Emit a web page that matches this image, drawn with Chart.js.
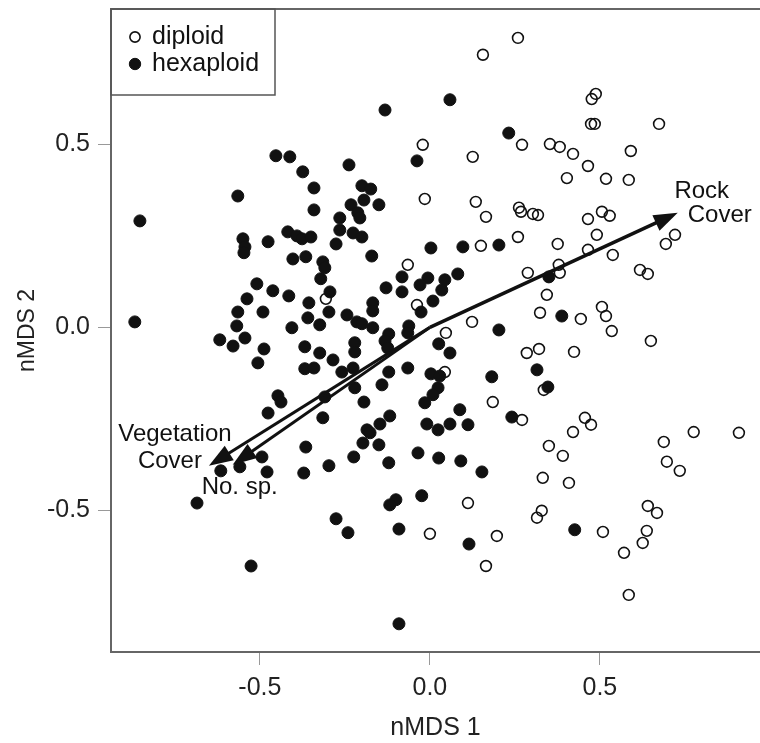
<!DOCTYPE html>
<html>
<head>
<meta charset="utf-8">
<script src="https://cdn.jsdelivr.net/npm/chart.js@4.4.1/dist/chart.umd.min.js"></script>
<style>
  body { margin: 0; background: #fff; }
</style>
</head>
<body>
<canvas id="nmds" width="760" height="743"></canvas>
<script>
// nMDS site scores
const diploidX = [0.259,0.156,0.271,-0.021,0.126,-0.015,0.135,0.165,0.262,0.268,0.303,0.318,0.488,0.476,0.474,0.485,0.674,0.353,0.382,0.421,0.591,0.465,0.403,0.518,0.585,0.465,0.506,0.529,0.491,0.376,0.465,0.538,0.721,0.694,0.379,0.382,0.618,0.641,0.344,0.324,0.444,0.506,0.518,0.535,0.650,0.321,0.424,0.335,0.456,0.474,0.421,0.776,0.909,0.688,0.697,0.735,0.350,0.391,0.332,0.409,0.329,0.315,0.509,0.641,0.668,0.638,0.626,0.571,0.585,0.112,0.000,0.197,0.165,0.259,0.150,-0.065,0.288,-0.306,-0.038,0.124,0.047,0.044,0.285,0.185,0.271];
const diploidY = [0.791,0.745,0.499,0.499,0.466,0.351,0.343,0.302,0.327,0.316,0.310,0.307,0.638,0.624,0.556,0.556,0.556,0.501,0.493,0.474,0.482,0.441,0.408,0.406,0.403,0.296,0.316,0.305,0.253,0.228,0.212,0.198,0.253,0.228,0.171,0.149,0.157,0.146,0.089,0.040,0.023,0.056,0.031,-0.010,-0.037,-0.059,-0.067,-0.171,-0.247,-0.266,-0.286,-0.286,-0.288,-0.313,-0.367,-0.392,-0.324,-0.351,-0.411,-0.425,-0.501,-0.520,-0.559,-0.488,-0.507,-0.556,-0.589,-0.616,-0.731,-0.480,-0.564,-0.570,-0.652,0.247,0.223,0.171,0.149,0.078,0.061,0.015,-0.015,-0.122,-0.070,-0.204,-0.253];

const hexaploidX = [-0.453,-0.412,-0.374,-0.341,-0.565,-0.341,-0.853,0.059,-0.132,0.232,
  -0.038,-0.238,-0.200,-0.174,-0.194,-0.232,-0.150,-0.212,-0.265,-0.868,
  -0.550,-0.544,-0.547,-0.476,-0.418,-0.391,-0.376,-0.350,-0.403,-0.365,
  -0.315,-0.509,-0.462,-0.415,-0.538,-0.356,-0.321,-0.565,-0.491,-0.359,
  -0.324,-0.568,-0.406,-0.618,-0.579,-0.544,-0.488,-0.368,-0.324,-0.506,
  -0.368,-0.341,-0.447,-0.438,-0.476,-0.315,-0.265,-0.206,-0.226,-0.200,
  0.203,0.097,0.003,-0.276,-0.171,-0.309,0.082,0.044,-0.006,-0.029,
  -0.082,-0.129,-0.082,0.035,0.009,-0.294,-0.168,-0.168,-0.026,-0.297,
  -0.244,-0.215,-0.200,-0.168,-0.121,-0.062,-0.065,0.203,-0.132,-0.124,
  0.026,0.059,-0.221,-0.221,-0.285,-0.259,-0.226,-0.121,-0.065,0.003,
  0.029,0.182,-0.309,-0.221,-0.141,0.024,0.009,-0.015,-0.194,0.088,
  0.241,-0.118,-0.147,-0.185,-0.009,0.059,0.112,0.024,0.350,0.388,
  0.315,0.347,0.426,-0.197,-0.150,-0.176,-0.224,-0.297,-0.121,-0.035,
  0.026,0.091,0.153,-0.024,-0.100,-0.118,-0.276,-0.241,-0.091,0.115,
  -0.091,-0.365,-0.371,-0.494,-0.479,-0.559,-0.615,-0.685,-0.526];
const hexaploidY = [0.469,0.466,0.425,0.381,0.359,0.321,0.291,0.622,0.594,0.531,
  0.455,0.444,0.387,0.378,0.348,0.335,0.335,0.313,0.299,0.015,
  0.242,0.220,0.204,0.234,0.261,0.250,0.242,0.247,0.187,0.193,
  0.179,0.119,0.100,0.086,0.078,0.067,0.133,0.042,0.042,0.026,
  0.007,0.004,-0.001,-0.034,-0.051,-0.029,-0.059,-0.053,-0.070,-0.097,
  -0.113,-0.111,-0.187,-0.204,-0.234,-0.247,0.266,0.299,0.258,0.247,
  0.225,0.220,0.217,0.228,0.195,0.163,0.146,0.130,0.135,0.116,
  0.138,0.108,0.097,0.102,0.072,0.097,0.067,0.045,0.042,0.042,
  0.034,0.015,0.010,-0.001,-0.018,0.004,-0.015,-0.007,-0.037,-0.056,
  -0.045,-0.070,-0.042,-0.067,-0.089,-0.122,-0.111,-0.122,-0.111,-0.127,
  -0.133,-0.135,-0.190,-0.165,-0.157,-0.165,-0.184,-0.206,-0.204,-0.225,
  -0.245,-0.242,-0.264,-0.280,-0.264,-0.264,-0.266,-0.280,0.138,0.031,
  -0.116,-0.163,-0.553,-0.316,-0.321,-0.288,-0.354,-0.378,-0.370,-0.343,
  -0.357,-0.365,-0.395,-0.460,-0.471,-0.485,-0.523,-0.561,-0.551,-0.592,
  -0.810,-0.327,-0.398,-0.354,-0.395,-0.381,-0.392,-0.480,-0.652];

// fitted environmental vectors (arrow tips)
const arrowLabels = [["Rock", "Cover"], ["Vegetation", "Cover"], ["No. sp."]];
const arrowX = [0.729, -0.650, -0.580];
const arrowY = [0.313, -0.378, -0.375];

const xTicks = [-0.5, 0, 0.5];
const yTicks = [-0.5, 0, 0.5];

// pixel offsets of each label line from its arrow tip
const labelOffsets = [[[24, -21], [42, 3]], [[-34, -31], [-39, -4]], [[7, 23]]];

const FONT = '"Liberation Sans", Arial, sans-serif';

function toPoints(xs, ys) {
  return xs.map((v, i) => ({x: v, y: ys[i]}));
}

const extras = {
  id: 'extras',
  afterDatasetsDraw(chart) {
    const {ctx, chartArea: a, scales: {x, y}} = chart;
    ctx.save();

    // frame, the right side is off the canvas
    ctx.strokeStyle = '#666';
    ctx.lineWidth = 2;
    ctx.beginPath();
    ctx.moveTo(a.right + 2, a.top);
    ctx.lineTo(a.left, a.top);
    ctx.lineTo(a.left, a.bottom);
    ctx.lineTo(a.right + 2, a.bottom);
    ctx.stroke();

    // arrows
    const x0 = x.getPixelForValue(0), y0 = y.getPixelForValue(0);
    ctx.strokeStyle = '#111';
    ctx.fillStyle = '#111';
    ctx.font = '24px ' + FONT;
    ctx.textAlign = 'center';
    ctx.textBaseline = 'middle';
    for (let i = 0; i < arrowX.length; i++) {
      const x1 = x.getPixelForValue(arrowX[i]);
      const y1 = y.getPixelForValue(arrowY[i]);
      const ang = Math.atan2(y1 - y0, x1 - x0);
      const c = Math.cos(ang), s = Math.sin(ang);
      const hl = 24, hw = 8.5;
      ctx.lineWidth = i == 0 ? 3.5 : 3;
      ctx.beginPath();
      ctx.moveTo(x0, y0);
      ctx.lineTo(x1 - hl * 0.8 * c, y1 - hl * 0.8 * s);
      ctx.stroke();
      ctx.beginPath();
      ctx.moveTo(x1, y1);
      ctx.lineTo(x1 - hl * c + hw * s, y1 - hl * s - hw * c);
      ctx.lineTo(x1 - hl * c - hw * s, y1 - hl * s + hw * c);
      ctx.closePath();
      ctx.fill();
      arrowLabels[i].forEach((t, j) => {
        ctx.fillText(t, x1 + labelOffsets[i][j][0], y1 + labelOffsets[i][j][1]);
      });
    }

    // legend box in the top left corner
    ctx.strokeStyle = '#555';
    ctx.lineWidth = 1.5;
    ctx.strokeRect(a.left, a.top, 164, 86);
    ctx.font = '25px ' + FONT;
    ctx.textAlign = 'left';
    chart.data.datasets.forEach((ds, j) => {
      const my = a.top + 28 + j * 27;
      ctx.beginPath();
      ctx.arc(a.left + 24, my, ds.pointRadius - 0.3, 0, Math.PI * 2);
      ctx.fillStyle = ds.backgroundColor;
      ctx.fill();
      ctx.lineWidth = ds.borderWidth;
      ctx.strokeStyle = ds.borderColor;
      ctx.stroke();
      ctx.fillStyle = '#111';
      ctx.fillText(ds.label, a.left + 41, my);
    });
    ctx.restore();
  }
};

new Chart(document.getElementById('nmds'), {
  type: 'scatter',
  data: {
    datasets: [
      {
        label: 'diploid',
        data: toPoints(diploidX, diploidY),
        pointRadius: 5.4,
        borderWidth: 1.6,
        borderColor: '#111',
        backgroundColor: 'rgba(255,255,255,0)'
      },
      {
        label: 'hexaploid',
        data: toPoints(hexaploidX, hexaploidY),
        pointRadius: 6,
        borderWidth: 1,
        borderColor: '#111',
        backgroundColor: '#111'
      }
    ]
  },
  options: {
    responsive: false,
    animation: false,
    events: [],
    layout: { autoPadding: false, padding: { top: 9, right: 0, left: 0, bottom: 0 } },
    plugins: {
      legend: { display: false },
      tooltip: { enabled: false }
    },
    scales: {
      x: {
        min: -0.938,
        max: 0.971,
        afterFit: s => { s.height = 91; s.paddingLeft = 0; s.paddingRight = 0; },
        afterBuildTicks: s => { s.ticks = xTicks.map(v => ({value: v})); },
        border: { display: false },
        grid: { drawOnChartArea: false, drawTicks: true, tickLength: 13, color: '#999', lineWidth: 1 },
        ticks: {
          padding: 8,
          color: '#222',
          font: { family: FONT, size: 25 },
          callback: v => v.toFixed(1)
        },
        title: {
          display: true,
          text: 'nMDS 1',
          color: '#222',
          font: { family: FONT, size: 25 },
          padding: { top: 0, bottom: 0 }
        }
      },
      y: {
        min: -0.887,
        max: 0.870,
        afterFit: s => { s.width = 111; s.paddingTop = 0; s.paddingBottom = 0; },
        afterBuildTicks: s => { s.ticks = yTicks.map(v => ({value: v})); },
        border: { display: false },
        grid: { drawOnChartArea: false, drawTicks: true, tickLength: 13, color: '#999', lineWidth: 1 },
        ticks: {
          padding: 8,
          color: '#222',
          font: { family: FONT, size: 25 },
          callback: v => v.toFixed(1)
        },
        title: {
          display: true,
          text: 'nMDS 2',
          color: '#222',
          font: { family: FONT, size: 23 },
          padding: { top: 14, bottom: 0 }
        }
      }
    }
  },
  plugins: [extras]
});
</script>
</body>
</html>
